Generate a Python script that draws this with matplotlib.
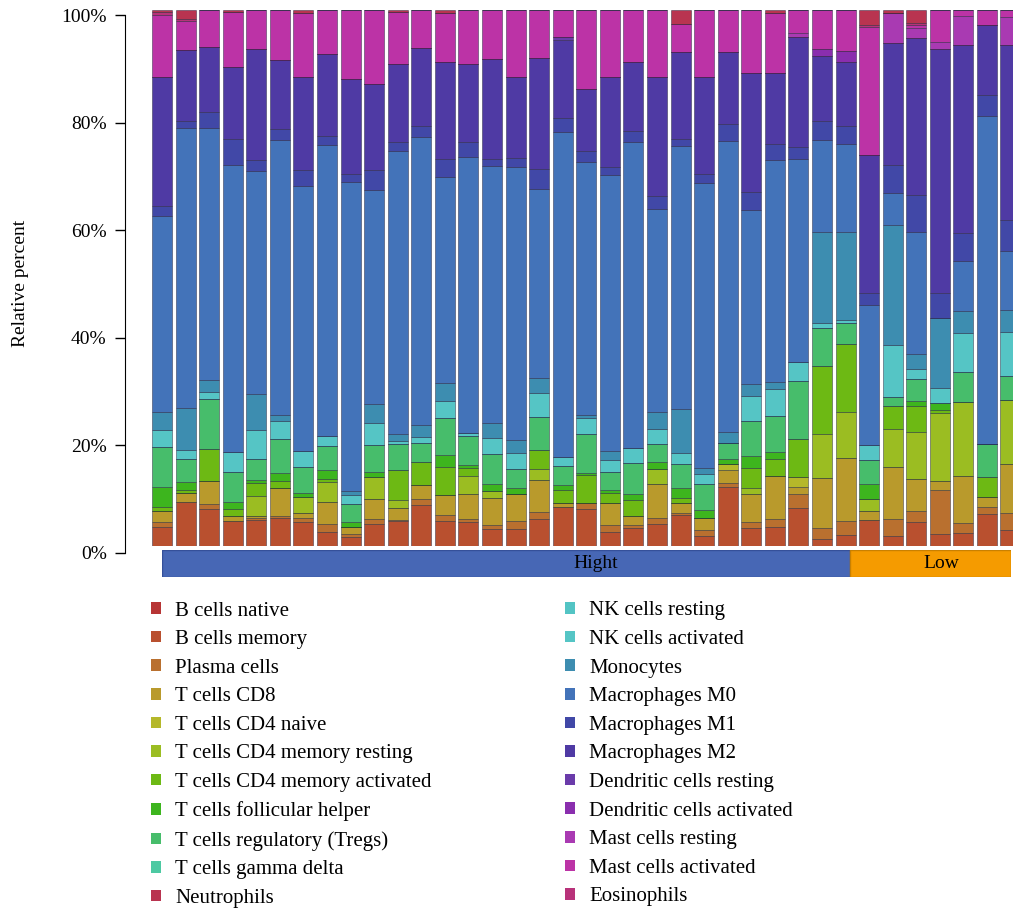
import numpy as np
import matplotlib
matplotlib.use("Agg")
import matplotlib.pyplot as plt
from matplotlib.patches import Patch

plt.rcParams['font.family'] = ['Liberation Serif', 'DejaVu Serif']

# CIBERSORT fractions (%) per sample, 37 samples
# samples 0-29 are "Hight", 30-36 are "Low"
groups = ['Hight', 'Low']
group_sizes = [30, 7]

b_naive = [0] * 37
b_memory = [3.6, 8.2, 6.9, 4.7, 4.9, 5.2, 4.4, 2.7, 1.7, 4.1, 4.7, 7.7, 4.7, 4.4, 3.1, 3.1, 5.0, 7.2, 6.9,
            2.7, 3.3, 4.1, 5.8, 1.9, 11.0, 3.4, 3.6, 7.2, 1.3, 2.1, 4.9, 1.9, 4.4, 2.2, 2.4, 5.9, 3.0]
plasma = [0.8, 0, 0.9, 0, 0.3, 0.5, 0.9, 1.4, 0.6, 0.9, 0.2, 1.1, 1.1, 0.6, 0.9, 1.6, 1.4, 0, 1.1,
          1.3, 0.6, 1.1, 0.3, 1.1, 0.8, 1.1, 1.4, 2.6, 2.1, 2.5, 0, 3.2, 2.2, 8.2, 1.9, 1.3, 3.1]
cd8 = [2.2, 1.8, 4.4, 0.9, 0.5, 5.2, 0.8, 4.2, 1.3, 3.7, 2.2, 2.7, 3.7, 4.7, 5.0, 5.0, 6.0, 0.8, 0,
       4.0, 1.7, 6.4, 1.9, 2.2, 2.5, 5.2, 8.0, 1.3, 9.3, 11.8, 1.6, 9.7, 5.9, 1.7, 8.7, 2.0, 9.3]
cd4_naive = [0, 0, 0, 0, 0, 0, 0, 0, 0, 0, 0, 0, 0, 0, 0, 0, 0, 0, 0,
             0, 0, 0, 0, 0, 1.1, 0, 0, 1.9, 0, 0, 0, 0, 0, 0, 0, 0, 0]
cd4_mem_resting = [0, 0, 0, 0, 3.6, 0, 3.1, 3.7, 0, 4.2, 1.4, 0, 0, 3.4, 1.3, 0, 1.9, 0, 0,
                   0, 0, 2.7, 0, 0, 0, 1.1, 0, 0, 8.3, 8.6, 2.3, 7.0, 8.8, 12.8, 14.0, 0, 11.8]
cd4_mem_activated = [0.6, 0.5, 6.0, 1.3, 2.5, 1.3, 0, 0.6, 0, 0, 5.6, 4.2, 5.3, 1.5, 0, 0, 3.6, 2.5, 5.3,
                     1.9, 3.0, 0, 0.9, 0, 0, 3.7, 3.3, 7.0, 12.7, 12.8, 0, 4.4, 4.9, 0.6, 0, 3.7, 0]
tfh = [3.8, 1.4, 0, 1.3, 0.5, 1.4, 0.8, 1.6, 0.9, 0.9, 0, 0, 2.2, 0.6, 1.3, 1.1, 0, 0.9, 0.4,
       0.6, 1.1, 1.3, 1.9, 1.6, 0.9, 2.4, 1.3, 0, 0, 0, 2.8, 0, 1.0, 1.3, 0, 0, 0]
tregs = [7.5, 4.4, 9.2, 5.7, 3.9, 6.5, 4.7, 4.5, 3.4, 5.0, 5.0, 3.6, 6.9, 5.4, 5.6, 3.6, 6.2, 3.6, 7.2,
         3.3, 5.9, 3.5, 4.5, 4.9, 3.0, 6.5, 6.7, 10.9, 7.0, 3.9, 4.5, 1.6, 4.0, 0, 5.6, 6.2, 4.5]
gamma_delta = [0] * 37
nk_resting = [0] * 37
nk_activated = [3.1, 1.7, 1.3, 3.6, 5.6, 3.4, 3.1, 1.9, 1.6, 4.2, 0.5, 1.1, 3.2, 0.6, 2.9, 2.9, 4.5, 1.7, 3.1,
                2.3, 2.7, 2.7, 2.1, 1.7, 0, 4.6, 5.1, 3.5, 0.9, 0.5, 2.8, 9.8, 1.9, 2.8, 7.2, 0, 8.3]
monocytes = [3.4, 7.8, 2.3, 0, 6.7, 1.1, 0, 0, 0.8, 3.4, 1.4, 2.2, 3.3, 0, 2.9, 2.6, 2.7, 0, 0.5,
             1.6, 0, 3.3, 8.3, 1.3, 2.0, 2.2, 1.3, 0, 17.1, 16.6, 0, 22.3, 2.8, 13.1, 4.2, 0, 4.0]
macro_m0 = [36.6, 52.4, 47.2, 53.7, 41.6, 51.5, 49.5, 54.2, 57.8, 40.0, 52.7, 53.9, 38.6, 51.6, 48.0, 51.0,
            35.4, 60.6, 47.3, 51.7, 57.3, 37.9, 49.0, 53.3, 54.4, 32.6, 41.3, 38.0, 17.1, 16.4, 26.2, 6.0,
            22.8, 0, 9.3, 61.2, 11.1]
macro_m1 = [1.9, 1.3, 3.0, 4.8, 2.2, 2.1, 3.0, 1.8, 1.4, 3.7, 1.8, 2.1, 3.2, 2.8, 1.3, 1.7, 3.7, 2.7, 2.0,
            1.4, 2.0, 2.4, 1.4, 1.7, 3.2, 3.3, 3.1, 2.4, 3.6, 3.4, 2.2, 5.3, 7.0, 4.7, 5.2, 3.9, 5.7]
macro_m2 = [24.1, 13.3, 12.1, 13.5, 20.7, 12.8, 17.4, 15.3, 17.8, 16.1, 14.6, 14.5, 18.1, 14.5, 18.6, 15.1,
            20.8, 14.6, 11.6, 16.8, 13.0, 22.1, 16.2, 18.1, 13.6, 22.4, 13.3, 20.6, 12.1, 12.0, 25.9, 22.7,
            29.4, 45.7, 35.2, 13.1, 32.7]
dc_resting = [0] * 17 + [0.6] + [0] * 19
dc_activated = [0] * 28 + [1.3, 2.1] + [0] * 7
mast_resting = [0, 0, 0, 0, 0, 0, 0, 0, 0, 0, 0, 0, 0, 0, 0, 0, 0, 0, 0,
                0, 0, 0, 0, 0, 0, 0, 0, 0.6, 0, 0, 0, 5.7, 1.9, 1.3, 5.3, 0, 5.3]
mast_activated = [11.6, 5.5, 6.9, 10.3, 7.3, 9.4, 12.0, 8.2, 12.9, 13.8, 9.6, 7.2, 9.2, 10.1, 9.2, 12.5,
                  8.9, 5.0, 14.8, 12.6, 9.7, 12.6, 5.3, 12.6, 7.8, 11.7, 11.1, 4.4, 7.3, 7.6, 24.0, 0,
                  0.5, 6.0, 1.2, 2.8, 1.3]
eosinophils = [0.5, 0.4] + [0] * 28 + [0.3, 0, 0.4, 0, 0, 0, 0]
neutrophils = [0.4, 1.6, 0, 0.4, 0, 0, 0.5, 0, 0, 0, 0.4, 0, 0.6, 0, 0, 0, 0, 0, 0,
               0, 0, 0, 2.6, 0, 0, 0, 0.6, 0, 0, 0, 2.8, 0.5, 2.4, 0, 0, 0, 0]

cell_types = ['B cells native', 'B cells memory', 'Plasma cells', 'T cells CD8', 'T cells CD4 naive',
              'T cells CD4 memory resting', 'T cells CD4 memory activated', 'T cells follicular helper',
              'T cells regulatory (Tregs)', 'T cells gamma delta', 'NK cells resting', 'NK cells activated',
              'Monocytes', 'Macrophages M0', 'Macrophages M1', 'Macrophages M2', 'Dendritic cells resting',
              'Dendritic cells activated', 'Mast cells resting', 'Mast cells activated', 'Eosinophils',
              'Neutrophils']
series = [b_naive, b_memory, plasma, cd8, cd4_naive, cd4_mem_resting, cd4_mem_activated, tfh, tregs,
          gamma_delta, nk_resting, nk_activated, monocytes, macro_m0, macro_m1, macro_m2, dc_resting,
          dc_activated, mast_resting, mast_activated, eosinophils, neutrophils]
colors = ['#B73535', '#B9502F', '#B9702F', '#B99A2C', '#B5B82A', '#9BBD22', '#6DB914', '#3DB51E',
          '#47BD6B', '#4DC9A2', '#53C4C4', '#55C5C5', '#3D8DB0', '#4373B9', '#4148A7', '#4F3AA4',
          '#6A3BAA', '#8A2EAE', '#A93AB2', '#BC33A6', '#B8327A', '#B93450']

data = np.array(series, dtype=float)
data = data / data.sum(axis=0) * 100  # each sample sums to 100%
n = data.shape[1]
x = np.arange(n)

W, H = 1013, 917
fig = plt.figure(figsize=(W / 100, H / 100), dpi=100)

# bars (right edge of the last bar runs off the picture, as in the original)
ax = fig.add_axes([150.2 / W, (H - 546) / H, 872.1 / W, 536 / H])
bottom = np.zeros(n)
for vals, col in zip(data, colors):
    ax.bar(x, vals, bottom=bottom, width=0.85, color=col,
           edgecolor=(0.1, 0.1, 0.2, 0.5), linewidth=0.6)
    bottom += vals
ax.set_xlim(-0.5, n - 0.5)
ax.set_ylim(0, 100)
ax.axis('off')

# y axis drawn separately, R style
ay = fig.add_axes([125 / W, (H - 552.7) / H, 0.001, 537.7 / H])
ay.set_ylim(0, 100)
ay.set_yticks([0, 20, 40, 60, 80, 100])
ay.set_yticklabels(['0%', '20%', '40%', '60%', '80%', '100%'], fontsize=14)
ay.tick_params(axis='y', length=7.2, width=1, pad=6)
ay.set_xticks([])
for s in ['top', 'right', 'bottom']:
    ay.spines[s].set_visible(False)
ay.patch.set_visible(False)
ay.set_ylabel('Relative percent', fontsize=14, labelpad=23)

# group annotation bar
ag = fig.add_axes([162 / W, (H - 577) / H, 849 / W, 27 / H])
starts = np.cumsum([0] + group_sizes[:-1])
ag.barh(0, group_sizes, left=starts, height=1, color=['#4767B5', '#F59B00'],
        edgecolor=['#35509A', '#C98000'], linewidth=1)
ag.set_xlim(0, n)
ag.set_ylim(-0.5, 0.5)
ag.axis('off')
ag.text(0.511, 0.5, groups[0], transform=ag.transAxes, ha='center', va='center', fontsize=14)
ag.text(0.918, 0.5, groups[1], transform=ag.transAxes, ha='center', va='center', fontsize=14)

# legend in two columns
order_left = [0, 1, 2, 3, 4, 5, 6, 7, 8, 9, 21]
order_right = [10, 11, 12, 13, 14, 15, 16, 17, 18, 19, 20]
for order, x0 in [(order_left, 151 / W), (order_right, 565 / W)]:
    handles = [Patch(facecolor=colors[i], edgecolor='none') for i in order]
    labels = [cell_types[i] for i in order]
    fig.legend(handles, labels, loc='upper left', bbox_to_anchor=(x0, 1 - 601.5 / H),
               frameon=False, fontsize=15, handlelength=0.48, handleheight=0.48,
               handletextpad=0.68, labelspacing=0.46, borderpad=0, borderaxespad=0)

plt.savefig('out.png', dpi=100)
